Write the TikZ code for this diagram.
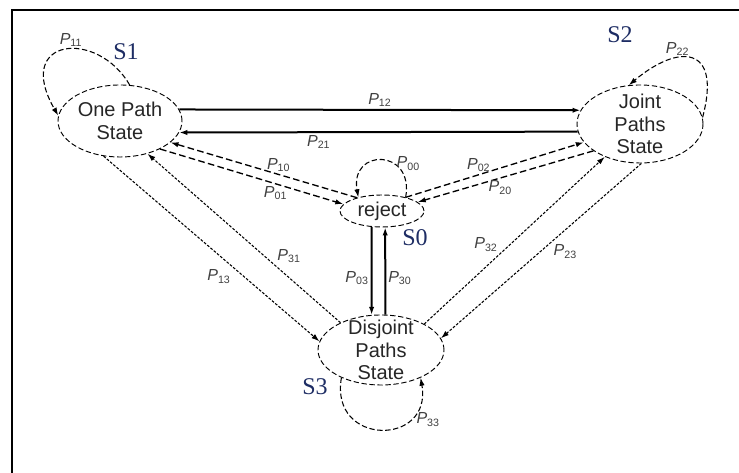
\documentclass[tikz,border=0pt]{standalone}
\usepackage{fontspec}
\setmainfont{Liberation Serif}
\setsansfont{Liberation Sans}
\usepackage{tikz}
\usetikzlibrary{arrows.meta, shapes.geometric}

\definecolor{snamecol}{RGB}{30,45,100}
\newcommand{\plab}[1]{\textit{P}\textsubscript{#1}}

\begin{document}
\begin{tikzpicture}[
    x=0.75pt, y=0.75pt,
    state/.style={ellipse, draw, dash pattern=on 4pt off 2pt, line width=0.7pt, inner xsep=-4pt, inner ysep=-10pt, align=center, text=black!85, font=\sffamily\fontsize{15}{17}\selectfont},
    sname/.style={text=snamecol, font=\fontsize{18}{18}\selectfont},
    prob/.style={font=\sffamily\fontsize{12}{12}\selectfont, text=black!75, inner sep=1.5pt},
    solidarr/.style={-{Latex[length=6pt,width=4pt]}, line width=1.5pt},
    dasharr/.style={-{Latex[length=6pt,width=4pt]}, line width=1pt, dash pattern=on 5pt off 2.5pt},
    dotarr/.style={-{Latex[length=6pt,width=4pt]}, line width=0.8pt, dash pattern=on 2pt off 1.2pt},
    looparr/.style={-{Latex[length=6pt,width=4pt]}, line width=0.8pt, dash pattern=on 4pt off 2pt}
]
    \useasboundingbox (0,0) rectangle (739,473);
    \draw [line width=1.5pt] (12,0) -- (12,463) -- (739,463);

    % states
    \node [state, minimum width=93pt, minimum height=54pt] (S1) at (120,352) {One Path\\State};
    \node [state, minimum width=94.5pt, minimum height=58.5pt] (S2) at (640,349) {Joint\\Paths\\State};
    \node [state, minimum width=63pt, minimum height=24pt] (S0) at (382,262) {reject};
    \node [state, minimum width=94.5pt, minimum height=52.5pt] (S3) at (381,123) {Disjoint\\Paths\\State};

    \node [sname] (n1) at (126,421) {S1};
    \node [sname] (n2) at (620,438) {S2};
    \node [sname] (n0) at (415,235) {S0};
    \node [sname] (n3) at (315,86) {S3};

    % transitions
    \draw [solidarr] (S1.11) -- node [prob, above] {\plab{12}} (S2.167);
    \draw [solidarr] (S2.-173) -- node [prob, below, pos=0.65] {\plab{21}} (S1.-11);

    \draw [dasharr] (S0.152) -- node [prob, above, pos=0.42] {\plab{10}} (S1.-23);
    \draw [dasharr] (S1.-35) -- node [prob, below, pos=0.63] {\plab{01}} (S0.170);
    \draw [dasharr] (S0.30) -- node [prob, above, pos=0.41] {\plab{02}} (S2.-162);
    \draw [dasharr] (S2.-150) -- node [prob, below, pos=0.53] {\plab{20}} (S0.14);

    \draw [solidarr] (S0.-123) -- node [prob, left, pos=0.58] {\plab{03}} (S3.105);
    \draw [solidarr] (S3.83) -- node [prob, right, pos=0.42] {\plab{30}} (S0.-79);

    \draw [dotarr] (S1.-115) -- node [prob, below left, pos=0.6] {\plab{13}} (S3.172);
    \draw [dotarr] (S3.146) -- node [prob, above right, pos=0.34] {\plab{31}} (S1.-50);
    \draw [dotarr] (S3.31) -- node [prob, above left, pos=0.42] {\plab{32}} (S2.-137);
    \draw [dotarr] (S2.-88) -- node [prob, below right, pos=0.45] {\plab{23}} (S3.11);

    % self loops
    \draw [looparr] (S1.75) .. controls +(120:65) and +(120:90) .. node [prob, above, pos=0.45] {\plab{11}} (S1.175);
    \draw [looparr] (S2.6) .. controls +(75:75) and +(40:65) .. node [prob, above left, pos=0.5] {\plab{22}} (S2.106);
    \draw [looparr] (S0.30) .. controls +(80:50) and +(100:50) .. node [prob, right, pos=0.35] {\plab{00}} (S0.150);
    \draw [looparr] (S3.-145) .. controls +(-100:70) and +(-80:70) .. node [prob, right=4pt, pos=0.72] {\plab{33}} (S3.-35);
\end{tikzpicture}
\end{document}
